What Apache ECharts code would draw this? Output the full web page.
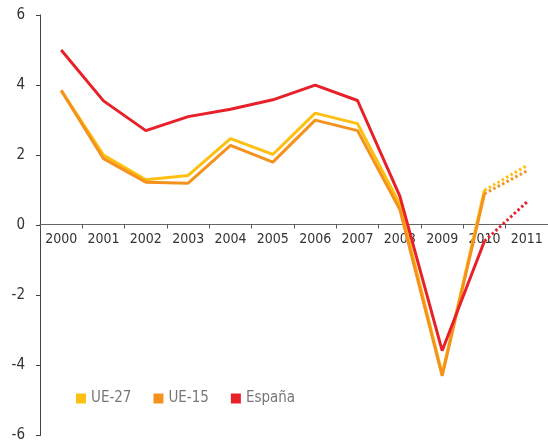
<!DOCTYPE html>
<html>
<head>
<meta charset="utf-8">
<script src="https://cdn.jsdelivr.net/npm/echarts@6/dist/echarts.min.js"></script>
<style>html,body{margin:0;padding:0;background:#fff}#c{width:548px;height:443px}</style>
</head>
<body>
<div id="c"></div>
<script>
var years = ['2000','2001','2002','2003','2004','2005','2006','2007','2008','2009','2010','2011'];
var ue27 = [3.85, 2.0, 1.3, 1.42, 2.47, 2.02, 3.2, 2.9, 0.6, -4.25, 1.0, 1.7];
var ue15 = [3.85, 1.9, 1.23, 1.2, 2.28, 1.8, 3.0, 2.7, 0.45, -4.3, 0.9, 1.55];
var espana = [5.0, 3.55, 2.7, 3.1, 3.31, 3.58, 4.0, 3.56, 0.83, -3.58, -0.45, 0.66];
var yTicks = [-6, -4, -2, 0, 2, 4, 6];
var lastActual = 10; // 2010 last solid point; 2011 forecast dotted

var FONT = "'DejaVu Sans Condensed', 'Liberation Sans Narrow', sans-serif";
var colors = {ue27: '#FDC010', ue15: '#F5921E', es: '#E8202A'};

function solidPart(arr) { return arr.map(function (v, i) { return i <= lastActual ? v : '-'; }); }
function dottedPart(arr) { return arr.map(function (v, i) { return i >= lastActual ? v : '-'; }); }

function mk(name, arr, color) {
  return [
    {name: name, type: 'line', data: solidPart(arr), symbol: 'none', color: color,
     lineStyle: {width: 3, color: color}, animation: false},
    {name: name, type: 'line', data: dottedPart(arr), symbol: 'none', color: color,
     lineStyle: {width: 3, color: color, type: [2.5, 2.5]}, animation: false}
  ];
}

var chart = echarts.init(document.getElementById('c'), null, {renderer: 'canvas'});
chart.setOption({
  animation: false,
  backgroundColor: '#fff',
  grid: {left: 40, right: -9, top: 15, bottom: 6, containLabel: false},
  legend: {
    data: ['UE-27', 'UE-15', 'España'],
    left: 71, top: 386,
    icon: 'rect', itemWidth: 10, itemHeight: 10, itemGap: 22,
    textStyle: {fontFamily: FONT, fontSize: 15, color: '#777'}
  },
  xAxis: {
    type: 'category', data: years, boundaryGap: true,
    offset: -211,
    axisLine: {onZero: false, lineStyle: {color: '#666', width: 1}},
    axisTick: {show: true, alignWithLabel: false, length: 4, inside: false, lineStyle: {color: '#555'}},
    axisLabel: {fontFamily: FONT, fontSize: 14, color: '#333', margin: 8, interval: 0}
  },
  yAxis: {
    type: 'value', min: yTicks[0], max: yTicks[yTicks.length - 1], interval: 2,
    splitLine: {show: false},
    axisLine: {show: true, lineStyle: {color: '#444', width: 1}},
    axisTick: {show: true, length: 4, lineStyle: {color: '#444'}},
    axisLabel: {fontFamily: FONT, fontSize: 15, color: '#333', margin: 15}
  },
  series: [].concat(mk('UE-27', ue27, colors.ue27), mk('UE-15', ue15, colors.ue15), mk('España', espana, colors.es))
});
</script>
</body>
</html>
